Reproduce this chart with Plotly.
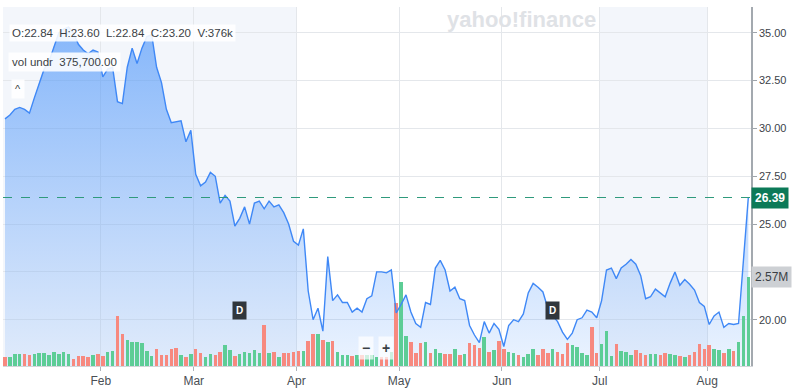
import plotly.graph_objects as go

# ---------------- data ----------------
month_labels = ["Feb", "Mar", "Apr", "May", "Jun", "Jul", "Aug"]
month_start_idx = [20, 39, 60, 81, 102, 122, 144]

close = [
    30.5, 30.7, 31.0, 31.1, 31.0, 30.8, 31.6, 32.4, 33.1, 33.5,
    34.3, 35.0, 35.2, 35.3, 35.0, 34.4, 34.1, 33.9, 34.1, 34.0,
    32.7, 33.1, 33.2, 31.4, 31.3, 33.2, 34.2, 33.4, 34.2, 34.8,
    34.9, 33.2, 32.4, 31.0, 30.3, 30.35, 30.4, 29.3, 29.9, 27.6,
    27.0, 27.2, 27.7, 27.5, 26.1, 26.5, 26.2, 24.9, 25.3, 25.9,
    25.0, 26.1, 26.2, 25.8, 26.2, 25.9, 26.0, 25.6, 25.0, 24.1,
    23.9, 24.75, 21.5, 20.0, 20.6, 19.4, 23.3, 21.0, 21.3, 20.9,
    20.9, 20.4, 20.6, 20.4, 21.1, 21.25, 22.5, 22.5, 22.45, 22.6,
    20.35, 20.8, 21.3, 20.4, 19.8, 19.6, 20.9, 20.8, 22.7, 23.1,
    22.6, 21.5, 21.7, 21.1, 21.0, 19.7, 19.2, 18.8, 19.9, 19.3,
    19.8, 19.5, 18.6, 19.7, 20.0, 19.9, 20.3, 21.4, 21.9, 21.7,
    21.45, 20.6, 20.2, 19.9, 19.35, 18.97, 19.3, 20.0, 20.1, 20.5,
    20.4, 20.1, 21.0, 22.6, 22.7, 22.15, 22.7, 22.9, 23.15, 22.9,
    22.3, 21.1, 21.2, 21.6, 21.4, 21.2, 21.9, 22.5, 21.8, 22.1,
    21.85, 21.55, 20.9, 20.7, 19.75, 20.2, 20.4, 19.6, 19.8, 19.75,
    19.8, 23.25, 26.39,
]

volume_m = [
    0.27, 0.27, 0.36, 0.34, 0.34, 0.32, 0.34, 0.38, 0.38, 0.33,
    0.40, 0.34, 0.42, 0.34, 0.20, 0.29, 0.29, 0.27, 0.31, 0.36,
    0.30, 0.41, 0.45, 1.46, 0.94, 0.75, 0.70, 0.70, 0.67, 0.43,
    0.30, 0.50, 0.31, 0.31, 0.50, 0.52, 0.31, 0.25, 0.36, 0.48,
    0.39, 0.27, 0.34, 0.31, 0.41, 0.61, 0.47, 0.30, 0.36, 0.42,
    0.37, 0.47, 0.37, 1.20, 0.39, 0.42, 0.27, 0.39, 0.38, 0.42,
    0.44, 0.44, 0.74, 0.93, 0.94, 0.75, 0.70, 0.74, 0.42, 0.31,
    0.31, 0.30, 0.31, 0.31, 0.31, 0.31, 0.27, 0.27, 0.27, 0.42,
    1.82, 2.44, 0.87, 0.70, 0.39, 0.68, 0.70, 0.39, 0.50, 0.39,
    0.36, 0.36, 0.49, 0.33, 0.36, 0.68, 0.60, 0.53, 0.85, 0.42,
    0.47, 0.74, 0.49, 0.41, 0.39, 0.31, 0.25, 0.36, 0.49, 0.31,
    0.50, 0.39, 0.50, 0.41, 0.34, 0.68, 0.60, 0.55, 0.39, 0.31,
    1.13, 0.39, 0.63, 1.01, 0.30, 0.63, 0.44, 0.42, 0.32, 0.46,
    0.39, 0.31, 0.36, 0.36, 0.31, 0.39, 0.34, 0.31, 0.30, 0.27,
    0.31, 0.42, 0.63, 0.50, 0.60, 0.50, 0.46, 0.39, 0.49, 0.44,
    0.70, 1.44, 2.57,
]

vol_up = [
    0, 1, 1, 1, 0, 0, 1, 1, 1, 1,
    1, 1, 1, 1, 0, 0, 0, 0, 1, 0,
    0, 1, 1, 0, 0, 1, 1, 1, 1, 1,
    1, 0, 0, 0, 0, 0, 1, 0, 1, 0,
    0, 1, 1, 0, 0, 1, 1, 0, 1, 1,
    1, 1, 1, 0, 1, 0, 1, 0, 0, 0,
    0, 1, 0, 0, 1, 0, 1, 0, 1, 1,
    1, 0, 1, 0, 1, 1, 1, 0, 0, 1,
    0, 1, 1, 0, 0, 0, 1, 0, 1, 1,
    0, 0, 1, 0, 1, 0, 0, 0, 1, 0,
    1, 0, 0, 1, 1, 0, 1, 1, 1, 0,
    0, 0, 1, 0, 0, 0, 1, 1, 1, 1,
    0, 0, 1, 1, 1, 0, 1, 1, 1, 0,
    0, 0, 1, 1, 0, 0, 1, 1, 0, 1,
    0, 0, 0, 0, 0, 1, 1, 0, 1, 0,
    1, 1, 1,
]

price_ticks = [20, 22.5, 25, 27.5, 30, 32.5, 35]
# the 22.50 label sits under the volume badge in the reference, so it is left blank
price_tick_text = ["20.00", "", "25.00", "27.50", "30.00", "32.50", "35.00"]
last_price = 26.39
last_volume = 2.57
last_volume_label = "2.57M"
ohlc_text = "O:22.84  H:23.60  L:22.84  C:23.20  V:376k"
vol_text = "vol undr  375,700.00"
dividend_idx = [48, 112]

# ---------------- styling / geometry ----------------
W, H = 800, 391
ML, MR, MT, MB = 3, 49, 7, 19
PW, PH = W - ML - MR, H - MT - MB

def px(x):
    return (x - ML) / PW

def py(y):
    return 1 - (y - MT) / PH

FONT = "Liberation Sans"
GRID = "#e4e7eb"
UP = "#5dcd96"
DOWN = "#f7897f"
LINE = "#3f88f6"

idx = list(range(len(close)))
x_range = [-0.41, len(close) - 0.45]
y_range = [17.58, 36.35]
v_range = [0, 10.42]
tick_pos = [i - 0.4 for i in month_start_idx]

fig = go.Figure()

fig.add_trace(go.Scatter(
    x=idx, y=close, mode="none", fill="tozeroy",
    fillgradient=dict(type="vertical", start=y_range[0], stop=35.5,
                      colorscale=[[0, "rgba(70,145,250,0.10)"],
                                  [1, "rgba(60,140,250,0.60)"]]),
    hoverinfo="skip", showlegend=False, yaxis="y",
))

fig.add_trace(go.Bar(
    x=idx, y=volume_m, width=0.72,
    marker=dict(color=[UP if u else DOWN for u in vol_up], line=dict(width=0)),
    hoverinfo="skip", showlegend=False, yaxis="y2",
))

fig.add_trace(go.Scatter(
    x=idx, y=close, mode="lines", line=dict(color=LINE, width=1.4),
    hoverinfo="skip", showlegend=False, yaxis="y3",
))

shapes = [
    dict(type="rect", xref="x", yref="paper", x0=x_range[0], x1=tick_pos[2],
         y0=0, y1=1, fillcolor="#f3f6fb", line=dict(width=0), layer="below"),
    dict(type="rect", xref="x", yref="paper", x0=tick_pos[5], x1=tick_pos[6],
         y0=0, y1=1, fillcolor="#f3f6fb", line=dict(width=0), layer="below"),
    dict(type="line", xref="paper", yref="y", x0=0, x1=1, y0=last_price, y1=last_price,
         line=dict(color="#2f9a7c", width=1, dash="dash"), layer="above"),
]

annotations = [
    dict(text=ohlc_text, xref="paper", yref="paper", x=px(9), y=py(33),
         xanchor="left", yanchor="middle", showarrow=False,
         font=dict(family=FONT, size=11.5, color="#3a3f45"),
         bgcolor="rgba(255,255,255,0.88)", borderpad=2),
    dict(text=vol_text, xref="paper", yref="paper", x=px(8), y=py(63),
         xanchor="left", yanchor="middle", showarrow=False,
         font=dict(family=FONT, size=11.5, color="#3a3f45"),
         bgcolor="rgba(255,255,255,0.88)", borderpad=3),
    dict(text="^", xref="paper", yref="paper", x=px(18), y=py(90),
         xanchor="center", yanchor="middle", showarrow=False,
         font=dict(family=FONT, size=11, color="#3a3f45"),
         bgcolor="rgba(255,255,255,0.88)", borderpad=3),
    dict(text="<b>yahoo!finance</b>", xref="paper", yref="paper", x=px(521), y=py(20),
         xanchor="center", yanchor="middle", showarrow=False,
         font=dict(family=FONT, size=22, color="#dfe2e6")),
    dict(text="<b>−</b>", xref="paper", yref="paper", x=px(366), y=py(354),
         xanchor="center", yanchor="middle", showarrow=False,
         font=dict(family=FONT, size=14, color="#3a3f45"),
         bgcolor="rgba(255,255,255,0.7)", borderpad=3),
    dict(text="<b>+</b>", xref="paper", yref="paper", x=px(386), y=py(354),
         xanchor="center", yanchor="middle", showarrow=False,
         font=dict(family=FONT, size=14, color="#3a3f45"),
         bgcolor="rgba(255,255,255,0.7)", borderpad=3),
    dict(text="<b>%.2f</b>" % last_price, xref="paper", yref="y", x=1.0, y=last_price,
         xanchor="left", yanchor="middle", showarrow=False,
         font=dict(family=FONT, size=12, color="white"),
         bgcolor="#0c7a58", borderpad=3),
    dict(text=last_volume_label, xref="paper", yref="y2", x=1.0, y=last_volume,
         xanchor="left", yanchor="middle", showarrow=False,
         font=dict(family=FONT, size=12, color="#3a3f45"),
         bgcolor="#cdd0d4", borderpad=3),
]
for d in dividend_idx:
    annotations.append(dict(
        text="<b>D</b>", xref="x", yref="paper", x=d, y=py(316),
        xanchor="center", yanchor="middle", showarrow=False,
        font=dict(family=FONT, size=10, color="white"),
        bgcolor="#30363c", borderpad=3))

fig.update_layout(
    width=W, height=H,
    margin=dict(l=ML, r=MR, t=MT, b=MB),
    paper_bgcolor="white", plot_bgcolor="white",
    font=dict(family=FONT),
    shapes=shapes, annotations=annotations,
    bargap=0,
    xaxis=dict(range=x_range, tickmode="array", tickvals=tick_pos, ticktext=month_labels,
               showgrid=True, gridcolor=GRID, gridwidth=1, zeroline=False,
               ticks="outside", ticklen=4, tickcolor="#aeb3b9",
               showline=True, linecolor="#d3d6da", linewidth=1,
               tickfont=dict(family=FONT, size=12, color="#4a4f55")),
    yaxis=dict(range=y_range, side="right", tickmode="array", tickvals=price_ticks,
               ticktext=price_tick_text, showgrid=True, gridcolor=GRID, gridwidth=1,
               zeroline=False, ticks="outside", ticklen=4, tickcolor="#9ea4aa",
               showline=True, linecolor="#a3a9af", linewidth=1.5,
               tickfont=dict(family=FONT, size=11, color="#3c4249")),
    yaxis2=dict(range=v_range, overlaying="y", visible=False, showgrid=False),
    yaxis3=dict(range=y_range, overlaying="y", visible=False, showgrid=False),
)

fig.write_html("out.html")
